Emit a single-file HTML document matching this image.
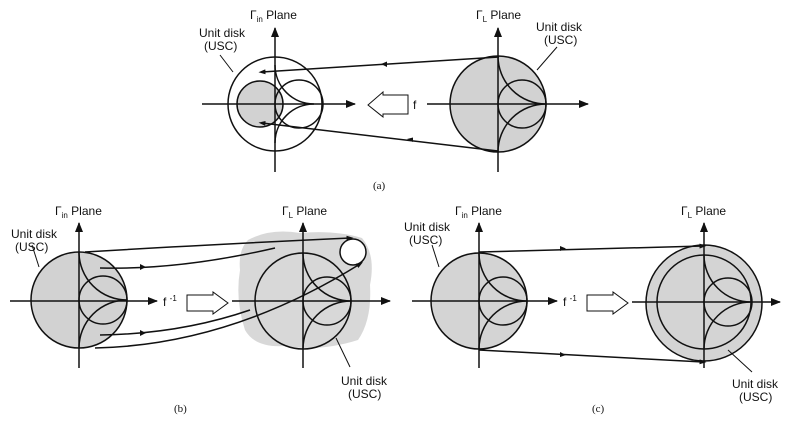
<!DOCTYPE html>
<html><head><meta charset="utf-8"><style>
html,body{margin:0;padding:0;background:#fff;}
svg{display:block;}
text{font-family:"Liberation Sans",sans-serif;font-size:12px;fill:#111;}
</style></head><body>
<svg width="800" height="422" viewBox="0 0 800 422" xmlns="http://www.w3.org/2000/svg">
<defs>
<marker id="ah" markerWidth="10" markerHeight="8" refX="9" refY="4" orient="auto" markerUnits="userSpaceOnUse"><path d="M0,0 L10,4 L0,8 z" fill="#111"/></marker>
<marker id="sm" markerWidth="7" markerHeight="5" refX="3.5" refY="2.5" orient="auto" markerUnits="userSpaceOnUse"><path d="M0,0 L7,2.5 L0,5 z" fill="#111"/></marker>
</defs>
<g stroke="#111" fill="none" stroke-width="1.5">
<circle cx="275" cy="104" r="47"/>
<circle cx="260" cy="104" r="23" fill="#d2d2d2"/>
<circle cx="299" cy="104" r="24"/>
<path d="M275,65 A39 39 0 0 0 314,104 M275,143 A39 39 0 0 1 314,104"/>
<line x1="202" y1="104" x2="355" y2="104" marker-end="url(#ah)"/>
<line x1="275" y1="172" x2="275" y2="28" marker-end="url(#ah)"/>
<circle cx="498" cy="104" r="48" fill="#d2d2d2"/>
<circle cx="522" cy="104" r="24"/>
<path d="M498,56 A48 48 0 0 0 546,104 M498,152 A48 48 0 0 1 546,104"/>
<line x1="427" y1="104" x2="588" y2="104" marker-end="url(#ah)"/>
<line x1="498" y1="172" x2="498" y2="28" marker-end="url(#ah)"/>
<path d="M408,95 L383,95 L383,92 L368,105 L383,117 L383,114 L408,114 z" stroke-width="1"/>
<line x1="499" y1="57" x2="262" y2="72" marker-end="url(#sm)"/>
<line x1="498" y1="151" x2="262" y2="123" marker-end="url(#sm)"/>
<line x1="220" y1="55" x2="233" y2="72" stroke-width="1"/>
<line x1="557" y1="47" x2="537" y2="70" stroke-width="1"/>
<path d="M248,240 Q270,228 300,233 Q335,230 362,238 Q376,255 370,285 Q372,320 358,340 Q320,352 285,346 Q255,348 245,330 Q235,300 240,270 Q238,250 248,240 z" fill="#d8d8d8" stroke="none"/>
<circle cx="79" cy="300" r="48" fill="#d2d2d2"/>
<circle cx="103" cy="300" r="24"/>
<path d="M79,252 A48 48 0 0 0 127,300 M79,348 A48 48 0 0 1 127,300"/>
<line x1="10" y1="301" x2="157" y2="301" marker-end="url(#ah)"/>
<line x1="79" y1="368" x2="79" y2="223" marker-end="url(#ah)"/>
<circle cx="303" cy="301" r="48"/>
<circle cx="327" cy="301" r="24"/>
<path d="M303,253 A48 48 0 0 0 351,301 M303,349 A48 48 0 0 1 351,301"/>
<line x1="232" y1="301" x2="390" y2="301" marker-end="url(#ah)"/>
<line x1="303" y1="368" x2="303" y2="223" marker-end="url(#ah)"/>
<circle cx="353" cy="252" r="13" fill="#fff"/>
<path d="M187,295 L213,295 L213,292 L228,303 L213,314 L213,311 L187,311 z" stroke-width="1"/>
<path d="M85,252 Q200,245 350,238" marker-end="url(#sm)"/>
<path d="M100,268 Q180,270 275,248"/>
<path d="M100,335 Q180,334 250,310"/>
<path d="M95,348 Q230,345 360,264" marker-end="url(#sm)"/>
<line x1="32" y1="245" x2="39" y2="267" stroke-width="1"/>
<line x1="336" y1="338" x2="350" y2="367" stroke-width="1"/>
<circle cx="479" cy="301" r="48" fill="#d4d4d4"/>
<circle cx="503" cy="301" r="24"/>
<path d="M479,253 A48 48 0 0 0 527,301 M479,349 A48 48 0 0 1 527,301"/>
<line x1="412" y1="301" x2="557" y2="301" marker-end="url(#ah)"/>
<line x1="479" y1="368" x2="479" y2="223" marker-end="url(#ah)"/>
<circle cx="704" cy="303" r="58" fill="#d4d4d4"/>
<circle cx="704" cy="302" r="47"/>
<circle cx="728" cy="302" r="24"/>
<path d="M704,255 A47 47 0 0 0 751,302 M704,349 A47 47 0 0 1 751,302"/>
<line x1="632" y1="302" x2="780" y2="302" marker-end="url(#ah)"/>
<line x1="704" y1="368" x2="704" y2="223" marker-end="url(#ah)"/>
<path d="M587,295 L613,295 L613,292 L628,303 L613,314 L613,311 L587,311 z" stroke-width="1"/>
<line x1="479" y1="252" x2="703" y2="246" marker-end="url(#sm)"/>
<line x1="479" y1="350" x2="703" y2="362" marker-end="url(#sm)"/>
<line x1="432" y1="245" x2="439" y2="267" stroke-width="1"/>
<line x1="728" y1="350" x2="752" y2="372" stroke-width="1"/>
</g>
<g fill="#111" stroke="none">
<path d="M387,61.5 L381,64 L387,67 z"/>
<path d="M413,137.5 L407,139 L413,142 z"/>
<path d="M140,264 L146,267 L140,270 z"/>
<path d="M140,330 L146,333 L140,336 z"/>
<path d="M560,246 L566,248.5 L560,251 z"/>
<path d="M560,352 L566,355 L560,357 z"/>
</g>
<text x="250" y="19">Γ<tspan font-size="8" dy="3">in</tspan><tspan dy="-3"> Plane</tspan></text>
<text x="476" y="19">Γ<tspan font-size="8" dy="3">L</tspan><tspan dy="-3"> Plane</tspan></text>
<text x="199" y="37">Unit disk</text><text x="204" y="50">(USC)</text>
<text x="536" y="31">Unit disk</text><text x="544" y="44">(USC)</text>
<text x="413" y="109">f</text>
<text x="373" y="189" style="font-family:'Liberation Serif',serif;font-size:11px">(a)</text>
<text x="55" y="215">Γ<tspan font-size="8" dy="3">in</tspan><tspan dy="-3"> Plane</tspan></text>
<text x="282" y="215">Γ<tspan font-size="8" dy="3">L</tspan><tspan dy="-3"> Plane</tspan></text>
<text x="11" y="238">Unit disk</text><text x="15" y="251">(USC)</text>
<text x="341" y="385">Unit disk</text><text x="348" y="398">(USC)</text>
<text x="163" y="306">f <tspan font-size="8" dy="-5">-1</tspan></text>
<text x="174" y="412" style="font-family:'Liberation Serif',serif;font-size:11px">(b)</text>
<text x="455" y="215">Γ<tspan font-size="8" dy="3">in</tspan><tspan dy="-3"> Plane</tspan></text>
<text x="681" y="215">Γ<tspan font-size="8" dy="3">L</tspan><tspan dy="-3"> Plane</tspan></text>
<text x="404" y="231">Unit disk</text><text x="409" y="244">(USC)</text>
<text x="732" y="388">Unit disk</text><text x="739" y="401">(USC)</text>
<text x="563" y="306">f <tspan font-size="8" dy="-5">-1</tspan></text>
<text x="592" y="412" style="font-family:'Liberation Serif',serif;font-size:11px">(c)</text>
</svg>
</body></html>
